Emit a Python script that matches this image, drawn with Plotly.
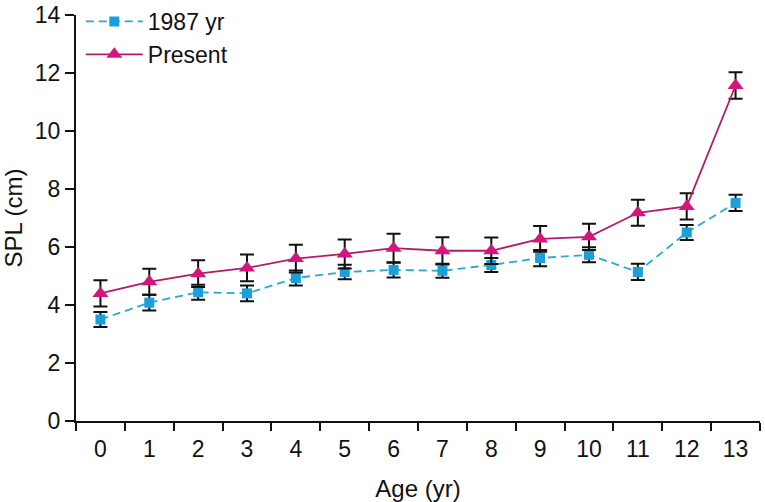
import plotly.graph_objects as go

ages = list(range(14))
age_labels = [str(a) for a in ages]

spl_1987 = [3.50, 4.08, 4.44, 4.40, 4.93, 5.14, 5.21, 5.18, 5.38, 5.62, 5.73, 5.14, 6.50, 7.52]
err_1987 = [0.26, 0.27, 0.26, 0.27, 0.26, 0.25, 0.26, 0.24, 0.24, 0.28, 0.26, 0.28, 0.26, 0.28]

spl_present = [4.40, 4.80, 5.08, 5.28, 5.60, 5.76, 5.96, 5.87, 5.87, 6.28, 6.35, 7.18, 7.40, 11.57]
err_present = [0.45, 0.45, 0.46, 0.46, 0.48, 0.50, 0.50, 0.47, 0.46, 0.44, 0.45, 0.45, 0.45, 0.46]

font_family = "Liberation Sans, Arial, sans-serif"

fig = go.Figure()
fig.add_trace(go.Scatter(
    x=ages, y=spl_1987, name="1987 yr", mode="lines+markers",
    line=dict(color="#2aa9cf", width=1.8, dash="8px,5px"),
    marker=dict(symbol="square", size=10, color="#1a9fd9"),
    error_y=dict(type="data", array=err_1987, visible=True, color="#111111",
                 thickness=2, width=7),
))
fig.add_trace(go.Scatter(
    x=ages, y=spl_present, name="Present", mode="lines+markers",
    line=dict(color="#b01c68", width=1.8),
    marker=dict(symbol="triangle-up", size=14, color="#d6157c"),
    error_y=dict(type="data", array=err_present, visible=True, color="#111111",
                 thickness=2, width=7),
))

fig.update_layout(
    width=765, height=502,
    margin=dict(l=76, r=5, t=15, b=81, autoexpand=False),
    paper_bgcolor="white", plot_bgcolor="white",
    font=dict(family=font_family, size=23, color="#111111"),
    showlegend=True,
    legend=dict(x=0.007, y=1.007, xanchor="left", yanchor="top",
                yref="container",
                bgcolor="rgba(0,0,0,0)", font=dict(size=23),
                itemwidth=57, tracegroupgap=0),
    xaxis=dict(
        range=[-0.5, 13.5], tickmode="array", tickvals=ages, ticktext=age_labels,
        ticks="outside", ticklen=6, tickcolor="rgba(0,0,0,0)",
        showgrid=False, zeroline=False, automargin=False,
        showline=True, linecolor="#111111", linewidth=2,
        minor=dict(tick0=-0.5, dtick=1, ticks="outside", ticklen=8,
                   tickwidth=2, tickcolor="#111111", showgrid=False),
        title=dict(text="Age (yr)", font=dict(size=24), standoff=20),
        tickfont=dict(size=23),
    ),
    yaxis=dict(
        range=[0, 14], tickmode="linear", tick0=0, dtick=2,
        ticks="outside", ticklen=9, tickwidth=2, tickcolor="#111111",
        showgrid=False, zeroline=False, automargin=False,
        ticklabeloverflow="allow",
        showline=True, linecolor="#111111", linewidth=2,
        title=dict(text="SPL (cm)", font=dict(size=24), standoff=15),
        tickfont=dict(size=23),
    ),
)

fig.write_html("out.html", config={"displayModeBar": False},
               post_script="document.body.style.margin='0';")
